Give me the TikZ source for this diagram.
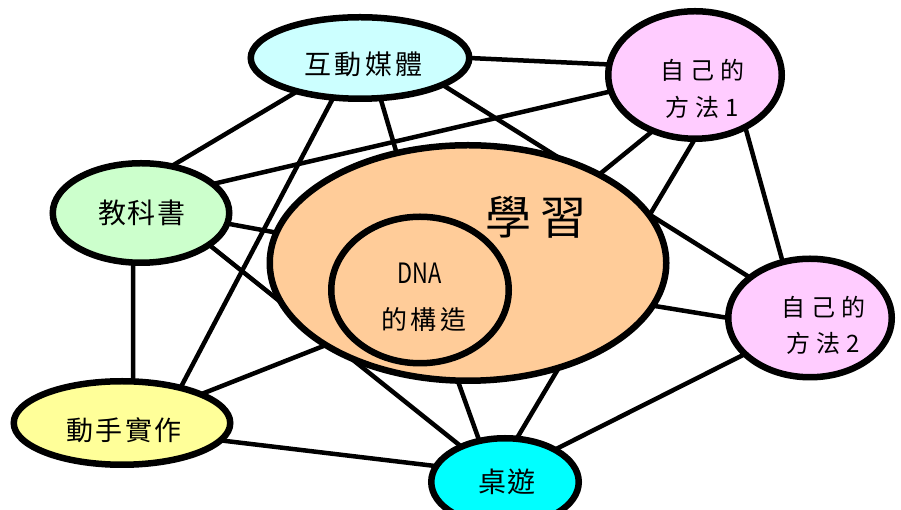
\documentclass[tikz,border=0pt]{standalone}
\usepackage{fontspec}
\usepackage{graphicx}
\newfontfamily\cjk{Noto Sans CJK TC}
\usetikzlibrary{shapes.geometric}
\pgfdeclarelayer{bg}
\pgfsetlayers{bg,main}
\definecolor{cM}{HTML}{CCFFFF}
\definecolor{cS}{HTML}{FFCCFF}
\definecolor{cT}{HTML}{CCFFCC}
\definecolor{cL}{HTML}{FFCC99}
\definecolor{cH}{HTML}{FFFF99}
\definecolor{cB}{HTML}{00FFFF}
\tikzset{
  bub/.style={ellipse, draw=black, line width=6.5pt, inner sep=0pt, outer sep=0pt},
  conn/.style={draw=black, line width=4.5pt},
  lbl/.style={inner sep=0pt, outer sep=0pt, text=black, align=center}
}
\newcommand\fsz[3]{\cjk\fontsize{#1}{#2}\selectfont\addfontfeature{LetterSpace=#3}}
\begin{document}
\begin{tikzpicture}[x=1pt,y=1pt]
\clip (0,0) rectangle (901,510);
% bubbles
\node[bub, fill=cL, minimum width=396.5pt, minimum height=235.5pt] (L) at (468,247) {};
\node[bub, fill=cL, minimum width=177.5pt, minimum height=146.5pt] (D) at (420,220) {};
\node[bub, fill=cM, minimum width=218.5pt, minimum height=81.5pt] (M) at (360,452) {};
\node[bub, fill=cS, minimum width=173.5pt, minimum height=127.5pt] (S1) at (695,435) {};
\node[bub, fill=cT, minimum width=176.5pt, minimum height=99.5pt] (T) at (141,297) {};
\node[bub, fill=cS, minimum width=163.5pt, minimum height=118.5pt] (S2) at (810,192) {};
\node[bub, fill=cH, minimum width=216.5pt, minimum height=83.5pt] (H) at (122,87) {};
\node[bub, fill=cB, minimum width=147.5pt, minimum height=87.5pt] (B) at (505,28) {};
% texts
\node[lbl, font=\fsz{27}{32}{12}] (Mt) at (363.6,446) {互動媒體};
\node[lbl, font=\fsz{24}{37}{25}] (S1t) at (702,421.5) {自己的\\方法1};
\node[lbl, font=\fsz{28}{32}{4}] (Tt) at (142,297) {教科書};
\node[lbl, font=\fsz{46}{50}{20}] (Lt) at (535.6,293) {學習};
\node[lbl, font=\cjk\fontsize{28}{32}\selectfont] (Dt1) at (420,237) {\scalebox{0.78}[1]{DNA}};
\node[lbl, font=\fsz{26}{30}{15}] (Dt2) at (424,190) {的構造};
\node[lbl, font=\fsz{24}{36}{25}] (S2t) at (823,185) {自己的\\方法2};
\node[lbl, font=\fsz{27}{32}{9}] (Ht) at (124.2,80) {動手實作};
\node[lbl, font=\fsz{28}{32}{7}] (Bt) at (507,28) {桌遊};
% connectors
\begin{pgfonlayer}{bg}
\draw[conn] (M.0) -- (S1.173);
\draw[conn] (M.208) -- (T.57);
\draw[conn] (M.236) -- (H.31);
\draw[conn] (M.297) -- (L.123);
\draw[conn] (M.342) -- (S2.146);
\draw[conn] (T.22) -- (S1.191);
\draw[conn] (T.353) -- (L.171);
\draw[conn] (T.261) -- (H.75);
\draw[conn] (T.335) -- (B.141);
\draw[conn] (S1.233) -- (L.34);
\draw[conn] (S1.270) -- (B.75);
\draw[conn] (S1.314) -- (S2.116);
\draw[conn] (L.347) -- (S2.180);
\draw[conn] (H.20) -- (L.210);
\draw[conn] (H.350) -- (B.167);
\draw[conn] (L.265) -- (B.122);
\draw[conn] (B.33) -- (S2.209);
\end{pgfonlayer}
\end{tikzpicture}
\end{document}
